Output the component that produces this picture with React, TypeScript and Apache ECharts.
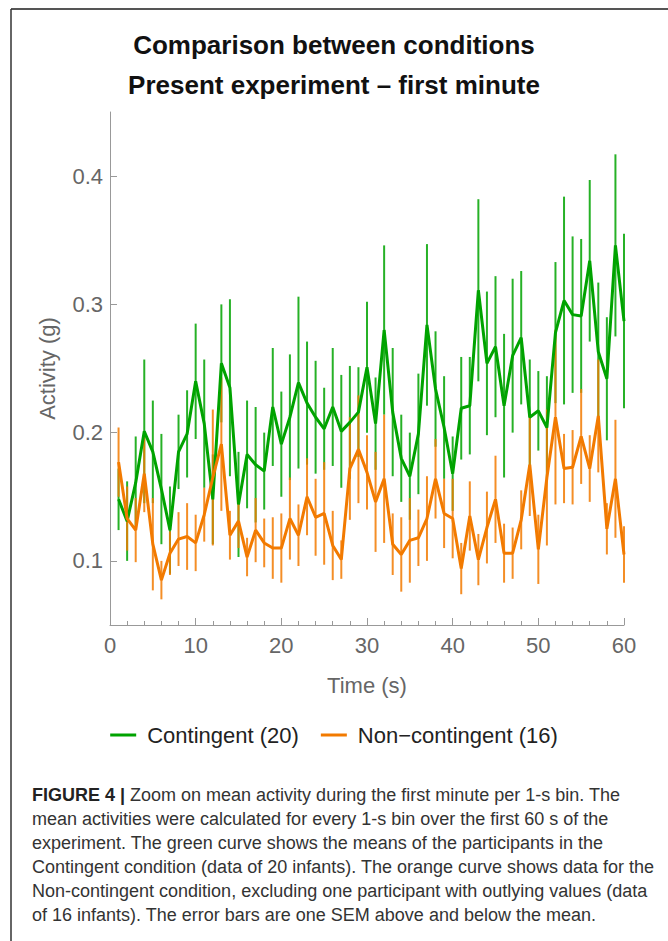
import React, { useEffect, useRef } from "react";
import * as echarts from "echarts";

const seconds = Array.from({ length: 60 }, (_, i) => i + 1);

const contingentMean = [
  0.148, 0.131, 0.161, 0.201, 0.185, 0.156, 0.124, 0.185, 0.199, 0.240,
  0.207, 0.148, 0.254, 0.235, 0.144, 0.183, 0.175, 0.170, 0.220, 0.191,
  0.212, 0.239, 0.223, 0.212, 0.203, 0.220, 0.201, 0.208, 0.216, 0.251,
  0.207, 0.280, 0.216, 0.180, 0.166, 0.199, 0.284, 0.234, 0.204, 0.168,
  0.219, 0.221, 0.311, 0.254, 0.267, 0.221, 0.260, 0.274, 0.212, 0.217,
  0.204, 0.278, 0.303, 0.292, 0.291, 0.334, 0.263, 0.242, 0.346, 0.287,
];
const contingentSem = [
  0.024, 0.031, 0.036, 0.056, 0.040, 0.043, 0.034, 0.029, 0.034, 0.045,
  0.050, 0.035, 0.046, 0.069, 0.041, 0.042, 0.045, 0.030, 0.046, 0.041,
  0.049, 0.067, 0.048, 0.044, 0.032, 0.046, 0.044, 0.044, 0.035, 0.051,
  0.036, 0.066, 0.050, 0.034, 0.034, 0.047, 0.063, 0.045, 0.040, 0.029,
  0.040, 0.038, 0.071, 0.056, 0.055, 0.056, 0.060, 0.052, 0.045, 0.031,
  0.040, 0.055, 0.081, 0.061, 0.060, 0.063, 0.054, 0.048, 0.071, 0.068,
];
const nonContingentMean = [
  0.177, 0.133, 0.124, 0.168, 0.113, 0.085, 0.106, 0.117, 0.119, 0.114,
  0.136, 0.165, 0.191, 0.120, 0.131, 0.103, 0.124, 0.114, 0.110, 0.110,
  0.133, 0.120, 0.150, 0.134, 0.137, 0.112, 0.101, 0.172, 0.187, 0.169,
  0.146, 0.164, 0.113, 0.105, 0.116, 0.118, 0.133, 0.164, 0.137, 0.133,
  0.094, 0.135, 0.101, 0.126, 0.148, 0.106, 0.106, 0.132, 0.175, 0.109,
  0.165, 0.212, 0.172, 0.173, 0.197, 0.172, 0.213, 0.125, 0.164, 0.105,
];
const nonContingentSem = [
  0.027, 0.025, 0.025, 0.030, 0.036, 0.015, 0.017, 0.021, 0.026, 0.022,
  0.021, 0.053, 0.052, 0.019, 0.021, 0.015, 0.025, 0.019, 0.024, 0.027,
  0.032, 0.024, 0.030, 0.030, 0.040, 0.027, 0.015, 0.040, 0.042, 0.029,
  0.039, 0.050, 0.024, 0.029, 0.033, 0.022, 0.033, 0.031, 0.027, 0.031,
  0.020, 0.027, 0.020, 0.028, 0.034, 0.023, 0.020, 0.023, 0.040, 0.027,
  0.053, 0.068, 0.027, 0.029, 0.037, 0.026, 0.044, 0.020, 0.046, 0.022,
];

const yTickValues = [0.1, 0.2, 0.3, 0.4];
const seriesNames = ["Contingent (20)", "Non\u2212contingent (16)"];
const titleLines = ["Comparison between conditions", "Present experiment \u2013 first minute"];
const captionLines = [
  "{b|FIGURE 4 |} Zoom on mean activity during the first minute per 1-s bin. The",
  "mean activities were calculated for every 1-s bin over the first 60 s of the",
  "experiment. The green curve shows the means of the participants in the",
  "Contingent condition (data of 20 infants). The orange curve shows data for the",
  "Non-contingent condition, excluding one participant with outlying values (data",
  "of 16 infants). The error bars are one SEM above and below the mean.",
];

const GREEN = "#00a300";
const ORANGE = "#f27a00";
const FONT = "'Liberation Sans', Arial, sans-serif";

function errorBarSeries(name: string, color: string, means: number[], sems: number[], z: number) {
  return {
    type: "custom",
    name,
    z,
    itemStyle: { color },
    data: seconds.map((t, i) => [t, means[i], sems[i]]),
    encode: { x: 0, y: 1 },
    renderItem: (params: any, api: any) => {
      const x = api.value(0);
      const m = api.value(1);
      const s = api.value(2);
      const p1 = api.coord([x, m - s]);
      const p2 = api.coord([x, m + s]);
      return {
        type: "line",
        shape: { x1: p1[0], y1: p1[1], x2: p2[0], y2: p2[1] },
        style: { stroke: color, lineWidth: 2, opacity: 0.85 },
      };
    },
  };
}

export default function App() {
  const ref = useRef<HTMLDivElement>(null);
  useEffect(() => {
    document.body.style.margin = "0";
    const chart = echarts.init(ref.current!, null, { renderer: "svg" });
    const option: any = {
      animation: false,
      backgroundColor: "#ffffff",
      textStyle: { fontFamily: FONT },
      title: {
        text: titleLines.join("\n"),
        left: "center",
        top: 20,
        textStyle: { fontSize: 26, fontWeight: "bold", color: "#111", lineHeight: 40, fontFamily: FONT },
      },
      grid: { left: 110, right: 44, top: 112, bottom: 316, containLabel: false },
      legend: {
        top: 719,
        left: "center",
        itemWidth: 26,
        itemHeight: 3,
        itemGap: 22,
        textStyle: { fontSize: 22, color: "#222", fontFamily: FONT, padding: [0, 0, 0, 6] },
        data: [
          { name: seriesNames[0], icon: "rect", itemStyle: { color: GREEN } },
          { name: seriesNames[1], icon: "rect", itemStyle: { color: ORANGE } },
        ],
      },
      xAxis: {
        type: "value",
        min: 0,
        max: 60,
        interval: 10,
        name: "Time (s)",
        nameLocation: "middle",
        nameGap: 49,
        nameTextStyle: { fontSize: 22, color: "#666", fontFamily: FONT },
        axisLine: { lineStyle: { color: "#999", width: 1 } },
        axisTick: { inside: true, length: 7, lineStyle: { color: "#999" } },
        minorTick: { show: true, splitNumber: 5, length: 4, lineStyle: { color: "#999" } },
        splitLine: { show: false },
        axisLabel: { fontSize: 22, color: "#666", margin: 9, fontFamily: FONT },
      },
      yAxis: {
        type: "value",
        min: 0.05,
        max: 0.45,
        name: "Activity (g)",
        nameLocation: "middle",
        nameGap: 52,
        nameTextStyle: { fontSize: 22, color: "#666", fontFamily: FONT },
        axisLine: { show: true, lineStyle: { color: "#999", width: 1 } },
        axisTick: { show: true, inside: true, length: 7, customValues: yTickValues, lineStyle: { color: "#999" } },
        splitLine: { show: false },
        axisLabel: { fontSize: 22, color: "#666", margin: 7, customValues: yTickValues, fontFamily: FONT },
      },
      series: [
        {
          type: "line",
          name: seriesNames[0],
          z: 4,
          symbol: "none",
          color: GREEN,
          lineStyle: { width: 3, color: GREEN },
          data: seconds.map((t, i) => [t, contingentMean[i]]),
        },
        {
          type: "line",
          name: seriesNames[1],
          z: 5,
          symbol: "none",
          color: ORANGE,
          lineStyle: { width: 3, color: ORANGE },
          data: seconds.map((t, i) => [t, nonContingentMean[i]]),
        },
        errorBarSeries(seriesNames[0], GREEN, contingentMean, contingentSem, 2),
        errorBarSeries(seriesNames[1], ORANGE, nonContingentMean, nonContingentSem, 3),
      ],
      graphic: [
        { type: "line", shape: { x1: 11, y1: 9, x2: 668, y2: 9 }, style: { stroke: "#555", lineWidth: 2 } },
        { type: "line", shape: { x1: 11, y1: 9, x2: 11, y2: 941 }, style: { stroke: "#333", lineWidth: 1.5 } },
        ...captionLines.map((line, i) => ({
          type: "text",
          x: 32,
          y: 795 + i * 24,
          style: {
            text: line,
            fontSize: 18,
            fontFamily: FONT,
            fill: "#333",
            verticalAlign: "middle",
            rich: { b: { fontWeight: "bold", fontSize: 18, fontFamily: FONT, fill: "#222" } },
          },
        })),
      ],
    };
    chart.setOption(option);
    return () => chart.dispose();
  }, []);
  return <div ref={ref} style={{ position: "fixed", left: 0, top: 0, width: 668, height: 941 }} />;
}
